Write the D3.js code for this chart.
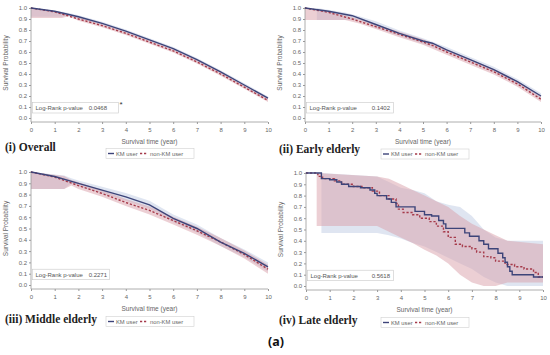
<!DOCTYPE html>
<html>
<head>
<meta charset="utf-8">
<script src="https://cdn.jsdelivr.net/npm/d3@7"></script>
<style>
  body { margin: 0; background: #fff; }
  svg { display: block; }
  .tick text { font-family: "Liberation Sans", Arial, sans-serif; font-size: 6px; fill: #666; }
  .tick line { stroke: #999; }
</style>
</head>
<body>
<div id="chart"></div>
<script>
// ---------------- data ----------------
var xTicks = [0, 1, 2, 3, 4, 5, 6, 7, 8, 9, 10];
var yTicks = [0, 0.1, 0.2, 0.3, 0.4, 0.5, 0.6, 0.7, 0.8, 0.9, 1.0];
var groupNames = ["KM user", "non-KM user"];
var panelTitles = ["(i) Overall", "(ii) Early elderly", "(iii) Middle elderly", "(iv) Late elderly"];
var pValues = ["0.0468", "0.1402", "0.2271", "0.5618"];

// (i) overall
var overallT = [0, 1, 2, 3, 4, 5, 6, 7, 8, 9, 10];
var overallKM = [1.0, 0.97, 0.92, 0.86, 0.79, 0.71, 0.63, 0.53, 0.42, 0.30, 0.18];
var overallNon = [1.0, 0.965, 0.90, 0.84, 0.77, 0.69, 0.61, 0.51, 0.40, 0.28, 0.16];
var overallBandT = [0, 1.3, 1.6, 2, 3, 4, 5, 6, 7, 8, 9, 10];
var overallKMLo = [0.92, 0.92, 0.935, 0.905, 0.845, 0.775, 0.695, 0.615, 0.515, 0.405, 0.285, 0.165];
var overallKMHi = [1.0, 0.965, 0.955, 0.935, 0.875, 0.805, 0.725, 0.645, 0.545, 0.435, 0.315, 0.195];
var overallNonLo = [0.91, 0.91, 0.925, 0.885, 0.825, 0.755, 0.675, 0.595, 0.495, 0.385, 0.265, 0.145];
var overallNonHi = [1.0, 0.96, 0.945, 0.915, 0.855, 0.785, 0.705, 0.625, 0.525, 0.415, 0.295, 0.175];

// (ii) early elderly
var earlyT = [0, 1, 2, 3, 4, 5, 5.4, 6, 7, 8, 9, 10];
var earlyKM = [1.0, 0.97, 0.93, 0.85, 0.77, 0.70, 0.68, 0.62, 0.53, 0.44, 0.33, 0.20];
var earlyNon = [1.0, 0.96, 0.90, 0.83, 0.76, 0.69, 0.66, 0.60, 0.51, 0.42, 0.31, 0.17];
var earlyBandT = [0, 0.5, 1.7, 2.3, 3, 4, 5, 6, 7, 8, 9, 10];
var earlyKMLo = [null, 0.89, 0.89, 0.89, 0.82, 0.745, 0.675, 0.595, 0.505, 0.415, 0.305, 0.175];
var earlyKMHi = [null, 1.0, 0.96, 0.925, 0.88, 0.795, 0.725, 0.645, 0.555, 0.465, 0.355, 0.225];
var earlyNonLo = [0.89, 0.89, 0.89, 0.86, 0.81, 0.735, 0.665, 0.575, 0.485, 0.395, 0.285, 0.145];
var earlyNonHi = [1.0, 0.99, 0.935, 0.90, 0.85, 0.785, 0.715, 0.625, 0.535, 0.445, 0.335, 0.195];

// (iii) middle elderly
var middleT = [0, 1, 2, 3, 4, 5, 6, 7, 8, 9, 10];
var middleKM = [1.0, 0.96, 0.90, 0.84, 0.78, 0.71, 0.59, 0.50, 0.38, 0.28, 0.16];
var middleNon = [1.0, 0.955, 0.88, 0.81, 0.73, 0.66, 0.57, 0.48, 0.38, 0.27, 0.14];
var middleBandT = [0, 1.4, 1.7, 2, 3, 4, 5, 6, 7, 8, 9, 10];
var middleKMLo = [0.85, 0.85, 0.90, 0.875, 0.81, 0.745, 0.675, 0.555, 0.465, 0.345, 0.245, 0.12];
var middleKMHi = [1.0, 0.97, 0.945, 0.925, 0.87, 0.815, 0.745, 0.625, 0.535, 0.415, 0.315, 0.20];
var middleNonLo = [0.85, 0.85, 0.88, 0.85, 0.78, 0.70, 0.625, 0.535, 0.445, 0.345, 0.235, 0.10];
var middleNonHi = [1.0, 0.965, 0.93, 0.91, 0.84, 0.76, 0.695, 0.605, 0.515, 0.415, 0.305, 0.18];

// (iv) late elderly (step curves)
var lateKMT = [0, 0.65, 1.0, 1.3, 1.5, 1.8, 2.3, 2.7, 2.9, 3.0, 3.4, 3.6, 3.8, 4.6, 5.0, 5.3, 5.6, 5.8, 5.9, 6.7, 6.9, 7.3, 7.5, 7.7, 8.1, 8.3, 8.4, 8.5, 8.6, 8.7, 9.6, 10];
var lateKM = [1.0, 0.95, 0.94, 0.92, 0.90, 0.88, 0.87, 0.85, 0.82, 0.80, 0.77, 0.74, 0.70, 0.66, 0.63, 0.62, 0.58, 0.55, 0.51, 0.47, 0.44, 0.40, 0.37, 0.33, 0.29, 0.25, 0.21, 0.17, 0.13, 0.10, 0.08, 0.08];
var lateNonT = [0, 0.5, 0.7, 1.2, 1.5, 2.0, 2.4, 2.8, 3.1, 3.5, 3.8, 3.9, 4.1, 4.5, 4.8, 5.2, 5.5, 5.8, 6.0, 6.3, 6.6, 7.0, 7.2, 7.5, 7.8, 8.0, 8.4, 8.8, 9.2, 9.6, 9.8, 10];
var lateNon = [1.0, 0.97, 0.95, 0.93, 0.90, 0.88, 0.87, 0.84, 0.80, 0.77, 0.73, 0.68, 0.65, 0.63, 0.60, 0.57, 0.53, 0.48, 0.43, 0.37, 0.35, 0.33, 0.30, 0.26, 0.25, 0.22, 0.19, 0.17, 0.15, 0.12, 0.08, 0.08];
var lateKMBandT = [0.65, 0.651, 3.0, 3.5, 4.0, 4.5, 5.0, 5.5, 6.0, 6.5, 7.0, 7.5, 8.0, 8.5, 10];
var lateKMLo = [1.0, 0.47, 0.47, 0.45, 0.42, 0.38, 0.35, 0.30, 0.25, 0.20, 0.15, 0.08, 0.03, 0.0, 0.0];
var lateKMHi = [1.0, 1.0, 0.97, 0.92, 0.87, 0.85, 0.82, 0.75, 0.72, 0.70, 0.62, 0.50, 0.43, 0.40, 0.40];
var lateNonBandT = [0.45, 0.451, 3.0, 3.5, 4.0, 4.5, 5.0, 5.5, 6.0, 6.5, 7.0, 7.5, 8.0, 8.5, 10];
var lateNonLo = [1.0, 0.53, 0.53, 0.48, 0.43, 0.38, 0.32, 0.27, 0.20, 0.10, 0.03, 0.0, 0.0, 0.03, 0.03];
var lateNonHi = [1.0, 1.0, 0.97, 0.95, 0.90, 0.85, 0.80, 0.75, 0.70, 0.62, 0.55, 0.50, 0.45, 0.40, 0.37];

// ---------------- layout ----------------
var svgWidth = 550;
var svgHeight = 355;

var kmColor = "#3d4479";
var nonColor = "#a53a4a";

var panels = [
  { left: 31, right: 268, top: 8, bottom: 118, axisY: 122, titleY: 151, legendX: 106, legendY: 148.5,
    boxW: 86, valueEnd: 76, star: true, curve: d3.curveLinear,
    km: { t: overallT, s: overallKM }, non: { t: overallT, s: overallNon },
    kmBand: { t: overallBandT, lo: overallKMLo, hi: overallKMHi },
    nonBand: { t: overallBandT, lo: overallNonLo, hi: overallNonHi } },
  { left: 305, right: 541, top: 8, bottom: 118, axisY: 122, titleY: 153, legendX: 381, legendY: 149,
    boxW: 87, valueEnd: 85, curve: d3.curveLinear,
    km: { t: earlyT, s: earlyKM }, non: { t: earlyT, s: earlyNon },
    kmBand: { t: earlyBandT, lo: earlyKMLo, hi: earlyKMHi },
    nonBand: { t: earlyBandT, lo: earlyNonLo, hi: earlyNonHi } },
  { left: 31, right: 268, top: 172, bottom: 285, axisY: 289, titleY: 323, legendX: 106, legendY: 316.5,
    boxW: 77, valueEnd: 76, curve: d3.curveLinear,
    km: { t: middleT, s: middleKM }, non: { t: middleT, s: middleNon },
    kmBand: { t: middleBandT, lo: middleKMLo, hi: middleKMHi },
    nonBand: { t: middleBandT, lo: middleNonLo, hi: middleNonHi } },
  { left: 306, right: 543, top: 173, bottom: 286, axisY: 290, titleY: 324, legendX: 381, legendY: 317.5,
    boxW: 86, valueEnd: 84, curve: d3.curveStepAfter,
    km: { t: lateKMT, s: lateKM }, non: { t: lateNonT, s: lateNon },
    kmBand: { t: lateKMBandT, lo: lateKMLo, hi: lateKMHi },
    nonBand: { t: lateNonBandT, lo: lateNonLo, hi: lateNonHi } }
];

var svg = d3.select("#chart")
  .append("svg")
  .attr("width", svgWidth)
  .attr("height", svgHeight);

function zipLine(o) {
  return o.t.map(function(t, i) { return { t: t, s: o.s[i] }; });
}
function zipBand(o) {
  return o.t.map(function(t, i) { return { t: t, lo: o.lo[i], hi: o.hi[i] }; });
}

var sans = "Liberation Sans, Arial, sans-serif";

panels.forEach(function(p, i) {
  var x = d3.scaleLinear().domain([0, 10]).range([p.left, p.right]);
  var y = d3.scaleLinear().domain([0, 1]).range([p.bottom, p.top]);
  var g = svg.append("g");

  // confidence bands (linear edges, the curves themselves may step)
  var area = d3.area()
    .defined(function(d) { return d.lo != null; })
    .x(function(d) { return x(d.t); })
    .y0(function(d) { return y(d.lo); })
    .y1(function(d) { return y(d.hi); });

  g.append("path")
    .datum(zipBand(p.kmBand))
    .attr("d", area)
    .attr("fill", "#b8c6e0")
    .attr("fill-opacity", 0.45);

  g.append("path")
    .datum(zipBand(p.nonBand))
    .attr("d", area)
    .attr("fill", "#d9a0aa")
    .attr("fill-opacity", 0.5);

  // axes
  var leftAxis = d3.axisLeft(y)
    .tickValues(yTicks)
    .tickFormat(d3.format(".1f"))
    .tickSize(2)
    .tickPadding(2);
  var yAxis = g.append("g")
    .attr("transform", `translate(${p.left}, 0)`)
    .call(leftAxis);
  yAxis.select(".domain").remove();

  var bottomAxis = d3.axisBottom(x)
    .tickValues(xTicks)
    .tickFormat(d3.format("d"))
    .tickSize(2)
    .tickPadding(4);
  var xAxis = g.append("g")
    .attr("transform", `translate(0, ${p.axisY})`)
    .call(bottomAxis);
  xAxis.select(".domain").remove();

  g.append("line")
    .attr("x1", p.left).attr("x2", p.left)
    .attr("y1", p.top - 1).attr("y2", p.axisY)
    .attr("stroke", "#999").attr("stroke-width", 0.8);
  g.append("line")
    .attr("x1", p.left).attr("x2", p.right)
    .attr("y1", p.axisY).attr("y2", p.axisY)
    .attr("stroke", "#999").attr("stroke-width", 0.8);

  // survival curves
  var line = d3.line()
    .x(function(d) { return x(d.t); })
    .y(function(d) { return y(d.s); })
    .curve(p.curve);

  g.append("path")
    .datum(zipLine(p.non))
    .attr("d", line)
    .attr("fill", "none")
    .attr("stroke", nonColor)
    .attr("stroke-width", 1.4)
    .attr("stroke-dasharray", "2.2,1.8");

  g.append("path")
    .datum(zipLine(p.km))
    .attr("d", line)
    .attr("fill", "none")
    .attr("stroke", kmColor)
    .attr("stroke-width", 1.4);

  // axis titles
  g.append("text")
    .attr("x", (p.left + p.right) / 2)
    .attr("y", p.axisY + 22)
    .attr("text-anchor", "middle")
    .style("font-family", sans)
    .style("font-size", "6.5px")
    .style("fill", "#666")
    .text("Survival time (year)");

  g.append("text")
    .attr("transform", `translate(${p.left - 23}, ${(p.top + p.bottom) / 2}) rotate(-90)`)
    .attr("text-anchor", "middle")
    .style("font-family", sans)
    .style("font-size", "6.5px")
    .style("fill", "#666")
    .text("Survival Probability");

  // log-rank box
  var boxTop = y(0.1) - 4.5;
  g.append("rect")
    .attr("x", p.left + 1.5).attr("y", boxTop)
    .attr("width", p.boxW).attr("height", 10.5)
    .attr("fill", "#fff").attr("fill-opacity", 0.6)
    .attr("stroke", "#c8c8c8").attr("stroke-width", 0.6);
  g.append("text")
    .attr("x", p.left + 4.5).attr("y", boxTop + 7.5)
    .style("font-family", sans)
    .style("font-size", "6px")
    .style("fill", "#555")
    .text("Log-Rank p-value");
  g.append("text")
    .attr("x", p.left + p.valueEnd).attr("y", boxTop + 7.5)
    .attr("text-anchor", "end")
    .style("font-family", sans)
    .style("font-size", "6px")
    .style("fill", "#555")
    .text(pValues[i]);
  if (p.star) {
    g.append("text")
      .attr("x", p.left + p.boxW + 2.5).attr("y", boxTop + 4)
      .style("font-family", sans)
      .style("font-size", "8px")
      .style("fill", "#333")
      .text("*");
  }

  // panel title
  g.append("text")
    .attr("x", i % 2 === 0 ? 5 : 279)
    .attr("y", p.titleY)
    .style("font-family", "Liberation Serif, Times New Roman, serif")
    .style("font-size", "11.5px")
    .style("font-weight", "bold")
    .style("fill", "#222")
    .text(panelTitles[i]);

  // legend
  var lg = g.append("g").attr("transform", `translate(${p.legendX}, ${p.legendY})`);
  lg.append("rect")
    .attr("width", 88).attr("height", 10)
    .attr("fill", "#fff")
    .attr("stroke", "#d0d0d0").attr("stroke-width", 0.6);
  lg.append("line")
    .attr("x1", 2).attr("x2", 8).attr("y1", 5).attr("y2", 5)
    .attr("stroke", kmColor).attr("stroke-width", 1.4);
  lg.append("text")
    .attr("x", 10).attr("y", 7.1)
    .style("font-family", sans)
    .style("font-size", "5.8px")
    .style("fill", "#666")
    .text(groupNames[0]);
  lg.append("line")
    .attr("x1", 34).attr("x2", 41).attr("y1", 5).attr("y2", 5)
    .attr("stroke", nonColor).attr("stroke-width", 1.4)
    .attr("stroke-dasharray", "2.2,1.8");
  lg.append("text")
    .attr("x", 44).attr("y", 7.1)
    .style("font-family", sans)
    .style("font-size", "5.8px")
    .style("fill", "#666")
    .text(groupNames[1]);
});

// figure letter
svg.append("text")
  .attr("x", 276)
  .attr("y", 346)
  .attr("text-anchor", "middle")
  .style("font-family", "Noto Sans, DejaVu Sans, sans-serif")
  .style("font-size", "12.5px")
  .style("font-weight", "bold")
  .style("fill", "#111")
  .text("(a)");
</script>
</body>
</html>
